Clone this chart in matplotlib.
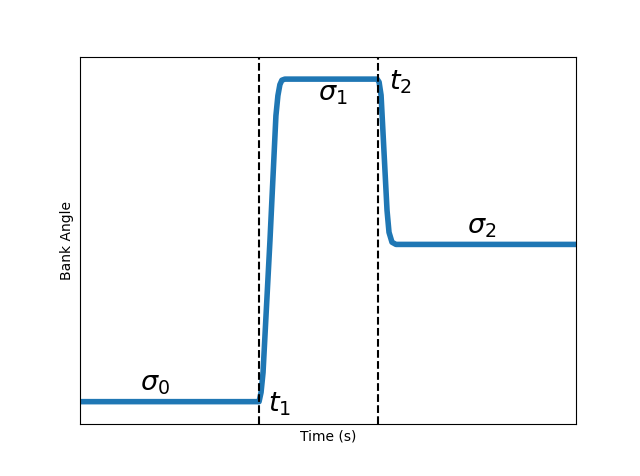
import matplotlib
matplotlib.use("Agg")
import matplotlib.pyplot as plt
import numpy as np

# time samples (s) and bank angle (normalised)
time = [0.0, 36.1, 36.5, 36.9, 38.3, 39.5, 39.9, 40.3, 40.7, 41.3,
        59.9, 60.3, 60.7, 61.9, 62.3, 62.9, 63.7, 100.0]
bank = [0.060, 0.060, 0.085, 0.139, 0.500, 0.840, 0.895, 0.925, 0.937, 0.940,
        0.940, 0.932, 0.896, 0.582, 0.522, 0.495, 0.489, 0.489]
t1, t2 = 36.1, 60.1

fig, ax = plt.subplots(figsize=(6.4, 4.76), dpi=100)
ax.plot(time, bank, color="#1f77b4", lw=4)
ax.axvline(t1, color="k", ls="--", lw=1.5)
ax.axvline(t2, color="k", ls="--", lw=1.5)
ax.set_xlim(0, 100)
ax.set_ylim(0, 1)
ax.set_xticks([])
ax.set_yticks([])
ax.set_xlabel("Time (s)")
ax.set_ylabel("Bank Angle")

fs = 19.5
ax.text(15.1, 0.109, r"$\sigma_0$", fontsize=fs, ha="center", va="center")
ax.text(40.3, 0.052, r"$t_1$", fontsize=fs, ha="center", va="center")
ax.text(51.0, 0.899, r"$\sigma_1$", fontsize=fs, ha="center", va="center")
ax.text(64.5, 0.932, r"$t_2$", fontsize=fs, ha="center", va="center")
ax.text(81.0, 0.536, r"$\sigma_2$", fontsize=fs, ha="center", va="center")

fig.savefig("out.png", dpi=100)
